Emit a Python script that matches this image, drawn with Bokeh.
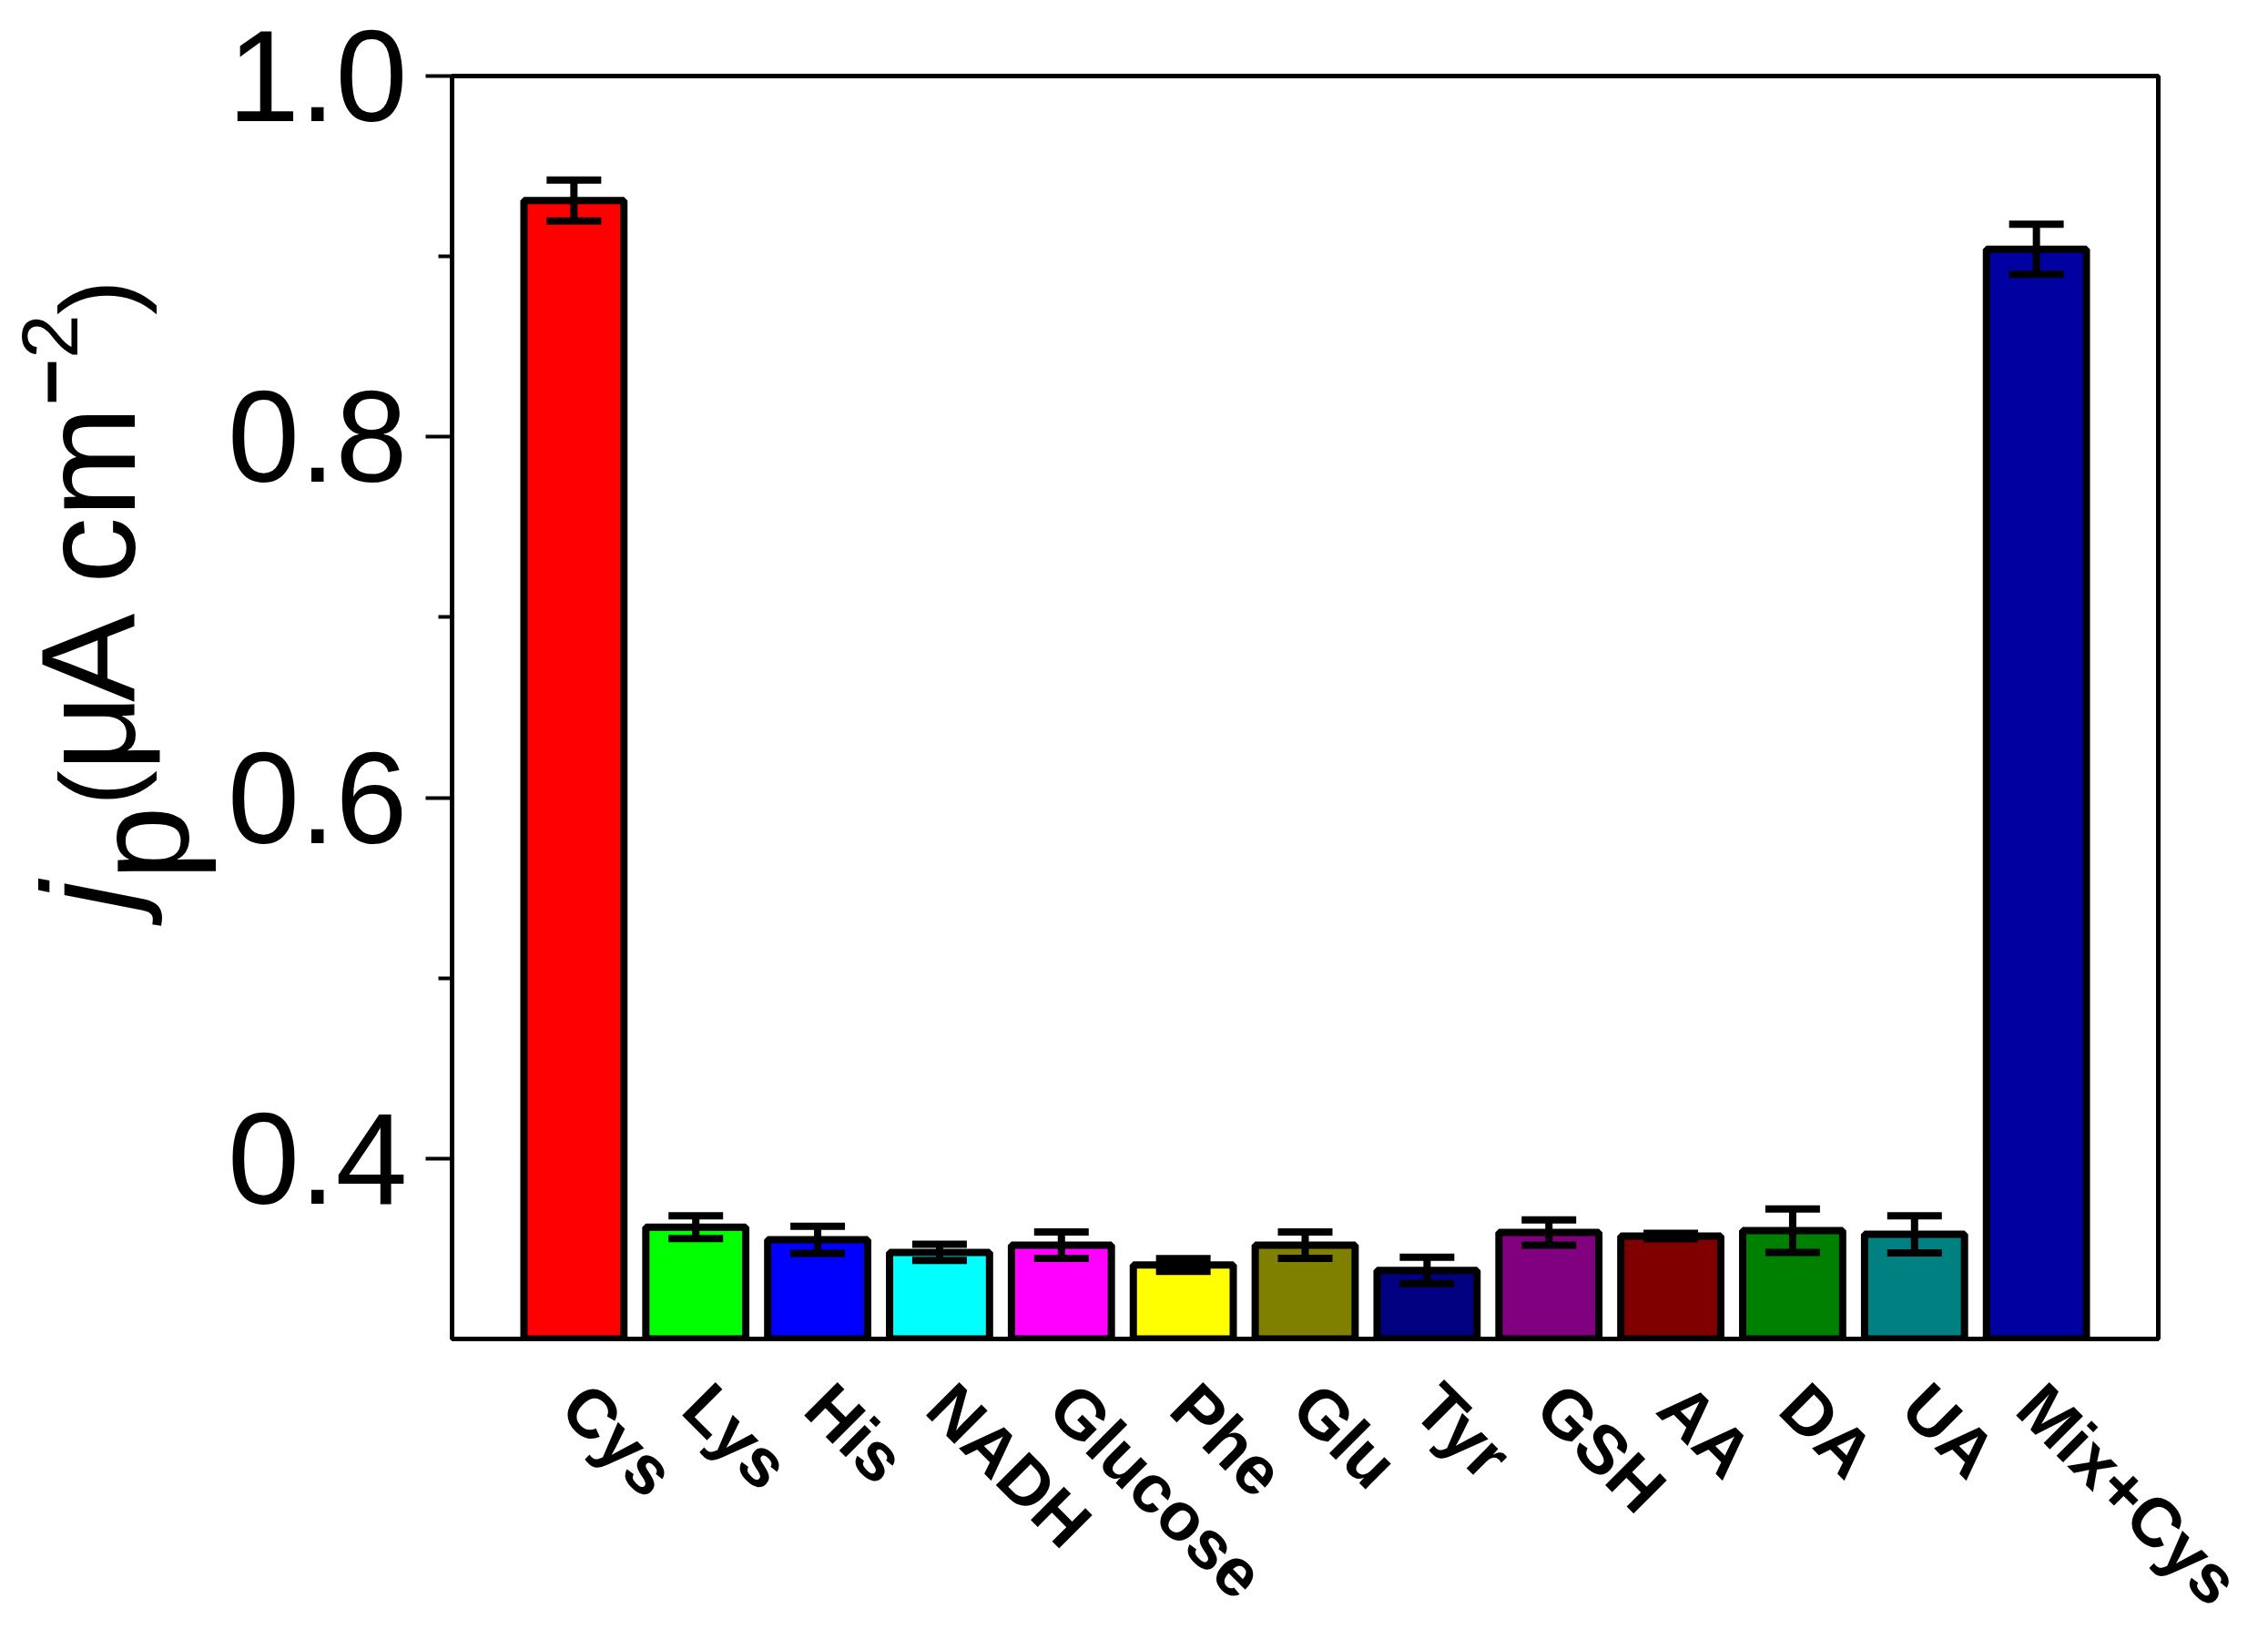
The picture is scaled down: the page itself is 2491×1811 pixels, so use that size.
import math
from bokeh.plotting import figure
from bokeh.layouts import row
from bokeh.models import Range1d, FixedTicker, ColumnDataSource, Label
from bokeh.embed import file_html
from bokeh.resources import INLINE

# ---- data ----
categories = ["Cys", "Lys", "His", "NADH", "Glucose", "Phe", "Glu", "Tyr",
              "GSH", "AA", "DA", "UA", "Mix+Cys"]
current = [0.931, 0.362, 0.355, 0.348, 0.352, 0.341, 0.352, 0.338,
           0.359, 0.357, 0.360, 0.358, 0.904]
error = [0.0114, 0.0063, 0.0075, 0.0045, 0.0073, 0.0035, 0.0073, 0.0073,
         0.0070, 0.0015, 0.0120, 0.0103, 0.0139]
colors = ["#FF0000", "#00FF00", "#0000FF", "#00FFFF", "#FF00FF", "#FFFF00",
          "#808000", "#000080", "#800080", "#800000", "#008000", "#008080",
          "#0000A0"]
y_tick_values = [0.4, 0.6, 0.8, 1.0]
y_tick_labels = ["0.4", "0.6", "0.8", "1.0"]
y_minor_ticks = [0.5, 0.7, 0.9]

FONT = "Liberation Sans"
H = 1811
WL = 240            # width of the strip that carries the y-axis title
WM = 2475 - WL      # width of the main plot
FRAME_TOP, FRAME_BOTTOM = 83, 1473

# ---------------- main plot ----------------
xs = list(range(1, len(categories) + 1))
src = ColumnDataSource(dict(
    x=xs, top=current, color=colors,
    lo=[v - e for v, e in zip(current, error)],
    hi=[v + e for v, e in zip(current, error)],
    cl=[x - 0.224 for x in xs], cr=[x + 0.224 for x in xs],
))

yr = Range1d(0.3, 1.0)
p = figure(width=WM, height=H, output_backend="svg", toolbar_location=None,
           x_range=Range1d(0, len(categories) + 1), y_range=yr,
           min_border_left=496 - WL, min_border_right=105, min_border_top=FRAME_TOP,
           min_border_bottom=H - FRAME_BOTTOM)
p.grid.visible = False
p.outline_line_color = "black"
p.outline_line_width = 5
p.background_fill_color = "white"
p.border_fill_color = "white"

p.vbar(x="x", top="top", bottom=0.3, width=0.82, fill_color="color",
       line_color="black", line_width=8, source=src)
p.segment(x0="x", y0="lo", x1="x", y1="hi", line_color="black", line_width=8, source=src)
p.segment(x0="cl", y0="hi", x1="cr", y1="hi", line_color="black", line_width=8, source=src)
p.segment(x0="cl", y0="lo", x1="cr", y1="lo", line_color="black", line_width=8, source=src)

ya = p.yaxis[0]
ya.ticker = FixedTicker(ticks=y_tick_values, minor_ticks=y_minor_ticks)
ya.major_label_overrides = {v: s for v, s in zip(y_tick_values, y_tick_labels)}
ya.axis_line_width = 5
ya.major_tick_line_width = 4
ya.minor_tick_line_width = 4
ya.major_tick_out = 29
ya.major_tick_in = 0
ya.minor_tick_out = 15
ya.minor_tick_in = 0
ya.major_label_text_font = FONT
ya.major_label_text_font_size = "142px"
ya.major_label_text_color = "black"
ya.major_label_standoff = 20

xa = p.xaxis[0]
xa.ticker = FixedTicker(ticks=xs, minor_ticks=[])
xa.major_label_overrides = {x: c for x, c in zip(xs, categories)}
xa.axis_line_width = 5
xa.major_tick_out = 0
xa.major_tick_in = 0
xa.major_tick_line_color = None
xa.minor_tick_line_color = None
xa.major_label_text_font = FONT
xa.major_label_text_font_style = "bold"
xa.major_label_text_font_size = "75px"
xa.major_label_text_color = "black"
xa.major_label_orientation = -math.pi / 4
xa.major_label_standoff = 62

# ---------------- y-axis title strip: j_p(μA cm^-2) ----------------
t = figure(width=WL, height=H, output_backend="svg", toolbar_location=None,
           x_range=Range1d(0, WL), y_range=yr,
           min_border_left=0, min_border_right=0, min_border_top=FRAME_TOP,
           min_border_bottom=H - FRAME_BOTTOM, x_axis_location=None,
           y_axis_location=None)
t.grid.visible = False
t.outline_line_color = None
t.background_fill_color = "white"
t.border_fill_color = "white"

def to_value(py):
    # position from the top of the picture -> value on the shared y scale
    return 1.0 - (py - FRAME_TOP) * 0.7 / (FRAME_BOTTOM - FRAME_TOP)

# (text, baseline x, start y from top, size in px, style)
title_parts = [
    ("j", 148, 1002, 146, "italic"),
    ("p", 207, 968, 146, "normal"),
    ("(", 148, 886, 116, "normal"),
    ("\u03bc", 148, 848, 146, "normal"),
    ("A cm", 148, 772, 146, "normal"),
    ("\u2212", 85, 445, 87, "bold"),
    ("2", 85, 394, 87, "normal"),
    (")", 148, 346, 116, "normal"),
]
for txt, bx, sy, size, style in title_parts:
    t.add_layout(Label(x=bx - 0.3465 * size, y=to_value(sy),
                       x_units="screen", y_units="data",
                       text=txt, angle=90, angle_units="deg",
                       text_font=FONT, text_font_size=f"{size}px",
                       text_font_style=style, text_color="black",
                       text_align="left", text_baseline="middle"))

layout = row(t, p, spacing=0)
open("out.html", "w").write(file_html(layout, INLINE))
